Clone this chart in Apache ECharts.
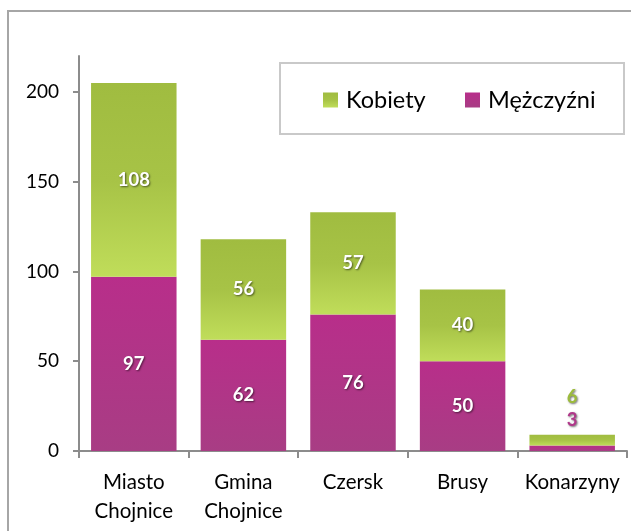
<!DOCTYPE html>
<html>
<head>
<meta charset="utf-8">
<script src="https://cdn.jsdelivr.net/npm/echarts@6/dist/echarts.min.js"></script>
<style>
html,body{margin:0;padding:0;background:#fff;}
#chart{width:631px;height:531px;}
</style>
</head>
<body>
<div id="chart"></div>
<script>
const categories = ['Miasto\nChojnice', 'Gmina\nChojnice', 'Czersk', 'Brusy', 'Konarzyny'];
const men = [97, 62, 76, 50, 3];
const women = [108, 56, 57, 40, 6];
const yTicks = [0, 50, 100, 150, 200];

const FONT = 'Lato';
const greenGrad = new echarts.graphic.LinearGradient(0, 0, 0, 1, [
  {offset: 0, color: '#a0bc40'},
  {offset: 0.5, color: '#a7c346'},
  {offset: 1, color: '#c0dd5a'}
]);
const magentaGrad = new echarts.graphic.LinearGradient(0, 0, 0, 1, [
  {offset: 0, color: '#b82e8a'},
  {offset: 1, color: '#a83d84'}
]);

const insideLabel = {
  show: true,
  position: 'inside',
  color: '#ffffff',
  fontFamily: FONT,
  fontWeight: 'bold',
  fontSize: 18.5,
  textShadowColor: 'rgba(0,0,0,0.55)',
  textShadowBlur: 2,
  textShadowOffsetX: 1,
  textShadowOffsetY: 1
};

function makeData(values, smallLabel) {
  return values.map((v, i) => {
    if (i === values.length - 1) {
      return {value: v, label: smallLabel};
    }
    return v;
  });
}

const chart = echarts.init(document.getElementById('chart'), null, {renderer: 'canvas'});
chart.setOption({
  animation: false,
  backgroundColor: '#ffffff',
  textStyle: {fontFamily: FONT},
  graphic: [
    {type: 'rect', shape: {x: 8, y: 11, width: 660, height: 560}, style: {fill: 'none', stroke: '#a6a6a6', lineWidth: 2}, silent: true, z: 100},
    {type: 'rect', shape: {x: 280, y: 63, width: 344, height: 71}, style: {fill: '#ffffff', stroke: '#c9c9c9', lineWidth: 2}, silent: true, z: 1}
  ],
  legend: [
    {data: ['Kobiety'], left: 318, top: 83, itemWidth: 15, itemHeight: 15, icon: 'rect',
     textStyle: {fontFamily: FONT, fontSize: 23.5, color: '#000000', padding: [0, 0, 0, 3]}, z: 5},
    {data: ['Mężczyźni'], left: 460, top: 83, itemWidth: 15, itemHeight: 15, icon: 'rect',
     textStyle: {fontFamily: FONT, fontSize: 23.5, color: '#000000', padding: [0, 0, 0, 3]}, z: 5}
  ],
  grid: {left: 79, right: 4, top: 56, bottom: 80, containLabel: false},
  xAxis: {
    type: 'category',
    data: categories,
    axisLine: {lineStyle: {color: '#8c8c8c', width: 2}},
    axisTick: {show: true, length: 7, lineStyle: {color: '#8c8c8c', width: 2}},
    axisLabel: {fontFamily: FONT, fontSize: 20.5, color: '#000000', lineHeight: 29, margin: 17, interval: 0}
  },
  yAxis: {
    type: 'value',
    min: 0,
    max: 220,
    interval: 50,
    splitLine: {show: false},
    axisLine: {show: true, lineStyle: {color: '#8c8c8c', width: 2}},
    axisTick: {show: true, length: 6, lineStyle: {color: '#8c8c8c', width: 2}, customValues: yTicks},
    axisLabel: {fontFamily: FONT, fontSize: 19, color: '#000000', margin: 20, customValues: yTicks}
  },
  series: [
    {
      name: 'Mężczyźni',
      type: 'bar',
      stack: 'total',
      barCategoryGap: '22%',
      itemStyle: {color: magentaGrad},
      label: insideLabel,
      data: makeData(men, {show: true, position: 'top', offset: [0, -11], color: '#b0388a', fontFamily: FONT, fontWeight: 'bold', fontSize: 18.5})
    },
    {
      name: 'Kobiety',
      type: 'bar',
      stack: 'total',
      barCategoryGap: '22%',
      itemStyle: {color: greenGrad},
      label: insideLabel,
      data: makeData(women, {show: true, position: 'top', offset: [0, -23], color: '#9cbb3c', fontFamily: FONT, fontWeight: 'bold', fontSize: 18.5})
    }
  ]
});
</script>
</body>
</html>
